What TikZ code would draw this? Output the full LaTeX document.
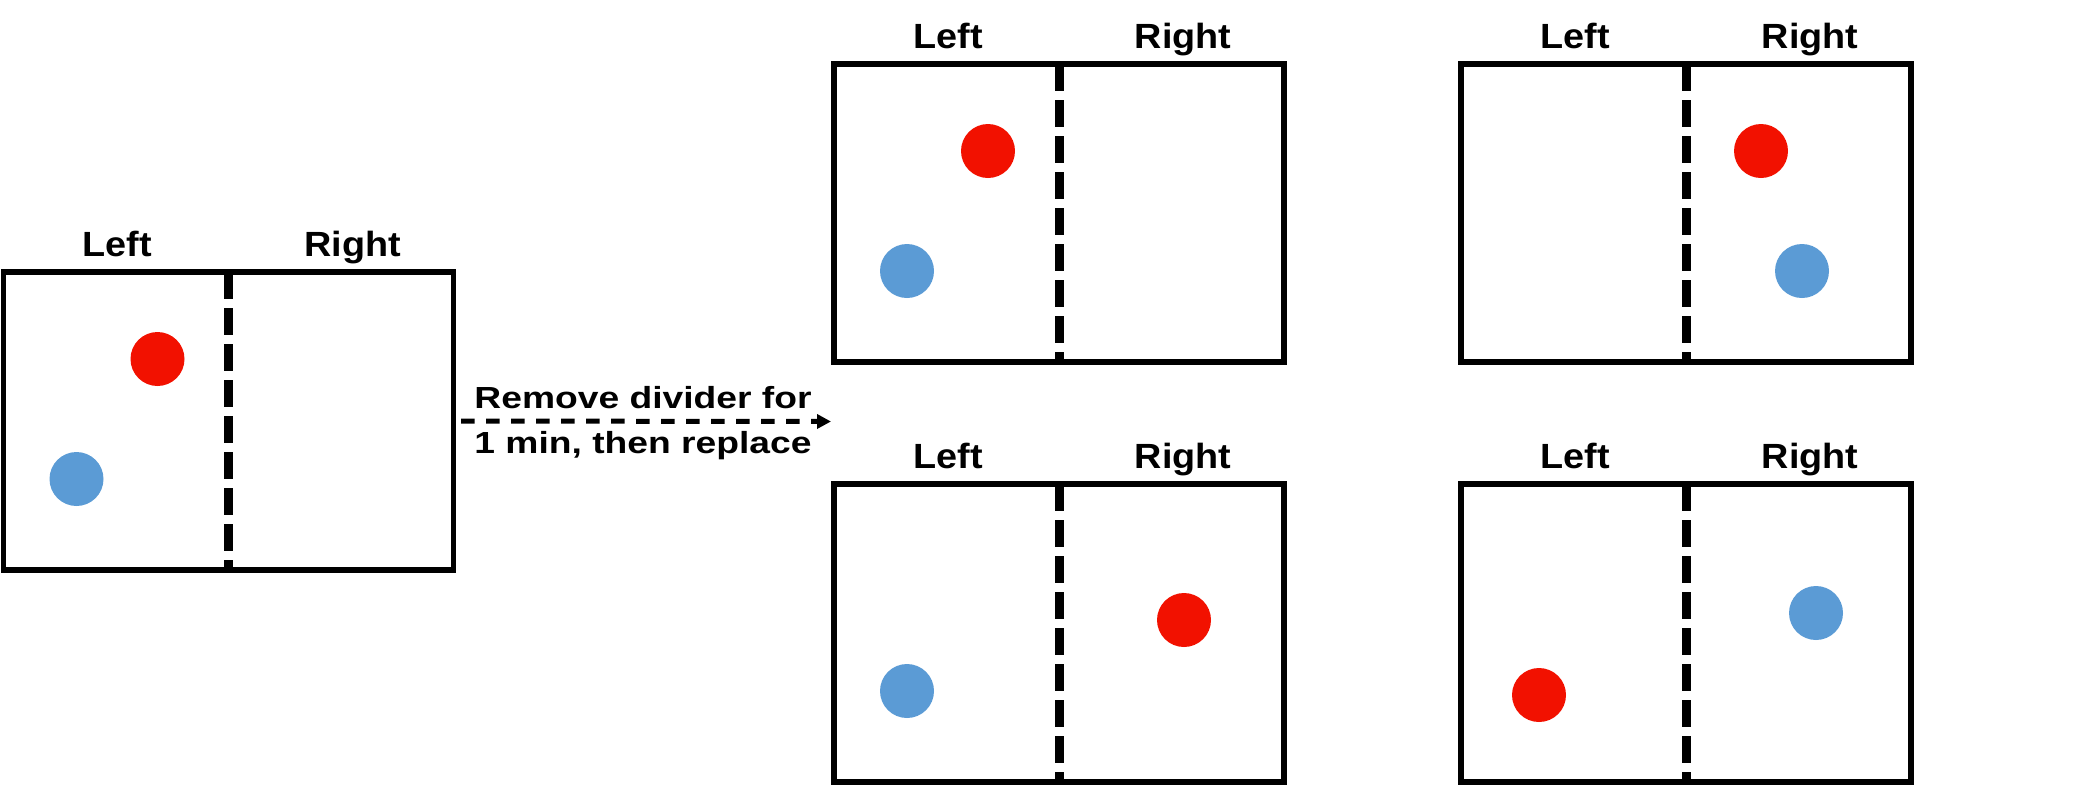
\documentclass[tikz,border=0pt]{standalone}
\usepackage{fontspec}
\setmainfont{Liberation Sans}
\newfontfamily\lblfont{Liberation Sans}[FakeStretch=1.08]
\newfontfamily\arrfont{Liberation Sans}[FakeStretch=1.22]
\usetikzlibrary{arrows.meta,calc}
\definecolor{ballred}{HTML}{F21100}
\definecolor{ballblue}{HTML}{5B9BD5}
\begin{document}
\begin{tikzpicture}[x=1pt,y=-1pt,
 tank/.style={draw=black, line width=5.5pt, rectangle, minimum width=450pt, minimum height=298pt, inner sep=0pt, outer sep=0pt},
 divider/.style={line width=9pt, dash pattern=on 26.7pt off 9.3pt},
 ball/.style={circle, inner sep=0pt, minimum size=54pt},
 redball/.style={ball, fill=ballred},
 blueball/.style={ball, fill=ballblue},
 side/.style={anchor=base, font=\lblfont\bfseries\fontsize{35}{42}\selectfont, inner sep=0pt},
 steptext/.style={anchor=base, font=\arrfont\bfseries\fontsize{30.5}{36}\selectfont, inner sep=0pt},
 flow/.style={line width=5pt, dash pattern=on 13.3pt off 11.7pt, dash phase=17.3pt, -{Triangle[length=14pt,width=14pt]}}
]
\useasboundingbox (0,0) rectangle (2090,788);
% boxes
\node[tank] (A) at (228.5,421) {};
\node[tank] (B) at (1059,213) {};
\node[tank] (C) at (1686,213) {};
\node[tank] (D) at (1059,633) {};
\node[tank] (E) at (1686,633) {};
% dividers
\draw[divider] (A.north) -- (A.south);
\draw[divider] (B.north) -- (B.south);
\draw[divider] (C.north) -- (C.south);
\draw[divider] (D.north) -- (D.south);
\draw[divider] (E.north) -- (E.south);
% labels
\node[side] (AL) at ($(A.north west)+(114,-15.5)$) {Left};
\node[side] (AR) at ($(A.north west)+(349,-15.5)$) {Right};
\node[side] (BL) at ($(B.north west)+(114,-15.5)$) {Left};
\node[side] (BR) at ($(B.north west)+(349,-15.5)$) {Right};
\node[side] (CL) at ($(C.north west)+(114,-15.5)$) {Left};
\node[side] (CR) at ($(C.north west)+(349,-15.5)$) {Right};
\node[side] (DL) at ($(D.north west)+(114,-15.5)$) {Left};
\node[side] (DR) at ($(D.north west)+(349,-15.5)$) {Right};
\node[side] (EL) at ($(E.north west)+(114,-15.5)$) {Left};
\node[side] (ER) at ($(E.north west)+(349,-15.5)$) {Right};
% balls
\node[redball] (Ar) at ($(A.north west)+(154,87)$) {};
\node[blueball] (Ab) at ($(A.north west)+(73,207)$) {};
\node[redball] (Br) at ($(B.north west)+(154,87)$) {};
\node[blueball] (Bb) at ($(B.north west)+(73,207)$) {};
\node[redball] (Cr) at ($(C.north west)+(300,87)$) {};
\node[blueball] (Cb) at ($(C.north west)+(341,207)$) {};
\node[redball] (Dr) at ($(D.north west)+(350,136)$) {};
\node[blueball] (Db) at ($(D.north west)+(73,207)$) {};
\node[redball] (Er) at ($(E.north west)+(78,211)$) {};
\node[blueball] (Eb) at ($(E.north west)+(355,129)$) {};
% arrow
\coordinate (tip) at (831,421.5);
\draw[flow] (A.east) -- (tip);
\node[steptext] (t1) at (643,408) {Remove divider for};
\node[steptext] (t2) at (643,453.5) {1 min, then replace};
\end{tikzpicture}
\end{document}
